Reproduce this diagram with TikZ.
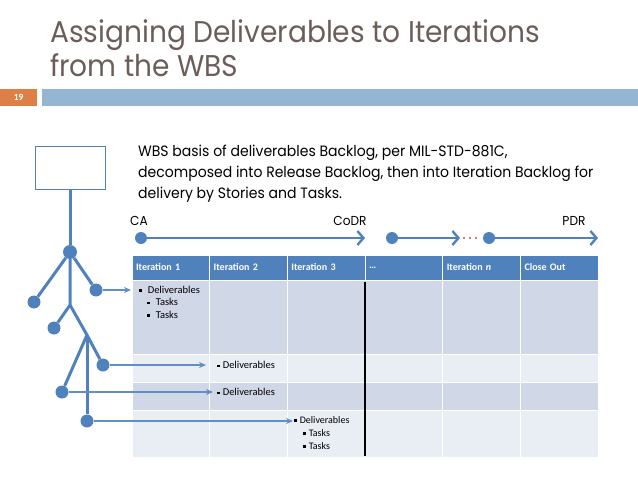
\documentclass[tikz,border=0pt]{standalone}
\usepackage{fontspec}
\setmainfont[FakeStretch=0.935]{Poppins}
\newfontfamily\tabfont{Carlito}
\usetikzlibrary{arrows.meta, positioning}

\definecolor{titlebrown}{RGB}{107,94,90}
\definecolor{slideorange}{RGB}{221,128,71}
\definecolor{barblue}{RGB}{148,182,210}
\definecolor{wbsblue}{RGB}{79,129,189}
\definecolor{rowdark}{RGB}{208,216,232}
\definecolor{rowlight}{RGB}{233,237,244}
\definecolor{dotred}{RGB}{192,80,77}

\newcommand{\sqb}{\rule[0.3ex]{2.6pt}{2.6pt}}

\begin{document}
\begin{tikzpicture}[
    x=1pt, y=-1pt,
    every node/.style={inner sep=0pt},
    wbsbox/.style={rectangle, draw=wbsblue, line width=1pt, fill=white,
                   minimum width=70pt, minimum height=43pt},
    joint/.style={circle, fill=wbsblue, minimum size=14pt},
    leaf/.style={circle, fill=wbsblue, minimum size=13pt},
    branch/.style={wbsblue, line width=3pt, line join=round},
    link/.style={-{Stealth[length=7pt, width=6pt]}, wbsblue!90!white, line width=1.8pt},
    mile/.style={circle, fill=wbsblue, minimum size=12pt},
    phase/.style={-{Straight Barb[length=6pt, width=14pt]}, wbsblue, line width=2.4pt},
    hcell/.style={rectangle, fill=wbsblue, draw=white, line width=1pt, outer sep=0pt,
                  minimum height=25pt, text width=69.7pt, inner xsep=4pt,
                  align=left, text=white,
                  font=\tabfont\fontsize{10}{11}\selectfont\bfseries},
    trow/.style={rectangle, draw=white, line width=1pt, outer sep=0pt,
                 minimum width=466pt, anchor=north west},
    gridline/.style={white, line width=1pt},
    items/.style={align=left, font=\tabfont\fontsize{10.5}{12.5}\selectfont},
    label/.style={font=\fontsize{13}{15}\selectfont},
]
\useasboundingbox (0,0) rectangle (638,479);

% Title and slide bar
\node[anchor=north west, align=left, text=titlebrown,
      font=\fontsize{30}{34}\selectfont] (title) at (50,19)
     {Assigning Deliverables to Iterations\\from the WBS};
\node[fill=slideorange, minimum width=37pt, minimum height=17pt, anchor=north west,
      text=white, font=\tabfont\fontsize{9.5}{10}\selectfont\bfseries] (num) at (0,89) {19};
\node[fill=barblue, minimum width=596pt, minimum height=17pt, anchor=north west]
     (bar) at (42,89) {};

\node[anchor=north west, align=left, font=\fontsize{15}{21}\selectfont] (basis) at (138,145)
     {WBS basis of deliverables Backlog, per MIL-STD-881C,\\
      decomposed into Release Backlog, then into Iteration Backlog for\\
      delivery by Stories and Tasks.};

% Milestone timeline
\node[mile] (m1) at (141,238) {};
\coordinate (m1end) at (365,238);
\node[mile] (m2) at (392,238) {};
\coordinate (m2end) at (460,238);
\node[mile] (m3) at (489,238) {};
\coordinate (m3end) at (598,238);

\draw[phase] (m1) -- (m1end);
\draw[phase] (m2) -- (m2end);
\draw[phase] (m3) -- (m3end);
\foreach \x in {464,470,476} \fill[dotred] (\x,238) circle (1.2pt);

\node[label] (ca) at (139,221) {CA};
\node[label] (codr) at (350,221) {CoDR};
\node[label] (pdr) at (574,221) {PDR};

% Iteration table
\node[hcell, anchor=north west] (h1) at (132,255) {Iteration 1};
\node[hcell, right=0pt of h1] (h2) {Iteration 2};
\node[hcell, right=0pt of h2] (h3) {Iteration 3};
\node[hcell, right=0pt of h3] (h4) {\ldots};
\node[hcell, right=0pt of h4] (h5) {Iteration \textit{n}};
\node[hcell, right=0pt of h5] (h6) {Close Out};

\node[trow, fill=rowdark,  minimum height=74pt] (r1) at (h1.south west) {};
\node[trow, fill=rowlight, minimum height=28pt] (r2) at (r1.south west) {};
\node[trow, fill=rowdark,  minimum height=28pt] (r3) at (r2.south west) {};
\node[trow, fill=rowlight, minimum height=47pt] (r4) at (r3.south west) {};

\draw[gridline] (h1.north east) -- (h1.north east |- r4.south);
\draw[gridline] (h2.north east) -- (h2.north east |- r4.south);
\draw[gridline] (h4.north east) -- (h4.north east |- r4.south);
\draw[gridline] (h5.north east) -- (h5.north east |- r4.south);
\draw[line width=2pt] ([yshift=-2pt]h3.south east) -- ([yshift=1pt]h3.south east |- r4.south);

\node[items, anchor=north west] (d1) at (139,286)
     {\sqb\hspace*{6pt}Deliverables\\
      \hspace*{8pt}\sqb\hspace*{6pt}Tasks\\
      \hspace*{8pt}\sqb\hspace*{6pt}Tasks};
\node[items, anchor=west] (d2) at (217,365) {\sqb\hspace*{3pt}Deliverables};
\node[items, anchor=west] (d3) at (217,392) {\sqb\hspace*{3pt}Deliverables};
\node[items, anchor=north west, font=\tabfont\fontsize{10}{13}\selectfont] (d4) at (294,416)
     {\sqb\hspace*{3pt}Deliverables\\
      \hspace*{9pt}\sqb\hspace*{3pt}Tasks\\
      \hspace*{9pt}\sqb\hspace*{3pt}Tasks};

% WBS tree
\node[wbsbox] (wbs) at (70,167.5) {};
\node[joint] (n1) at (70,252) {};
\coordinate (j1) at (70,305);
\coordinate (j2) at (87,335);
\node[leaf] (l1) at (34,302) {};
\node[leaf] (l2) at (96,290) {};
\node[leaf] (l3) at (54,328) {};
\node[leaf] (l4) at (103,365) {};
\node[leaf] (l5) at (62,392) {};
\node[leaf] (l6) at (87,421) {};

\draw[branch] (wbs) -- (n1);
\draw[branch] (n1) -- (l1);
\draw[branch] (n1) -- (l2);
\draw[branch] (n1) -- (j1) -- (l3);
\draw[branch] (j1) -- (j2) -- (l4);
\draw[branch] (j2) -- (l5);
\draw[branch] (j2) -- (l6);

\draw[link, shorten >=8pt] (l2) -- (l2 -| d1.west);
\draw[link, shorten >=11pt] (l4) -- (l4 -| d2.west);
\draw[link, shorten >=4pt] (l5) -- (l5 -| d3.west);
\draw[link, shorten >=1pt] (l6) -- (l6 -| d4.west);

\end{tikzpicture}
\end{document}
